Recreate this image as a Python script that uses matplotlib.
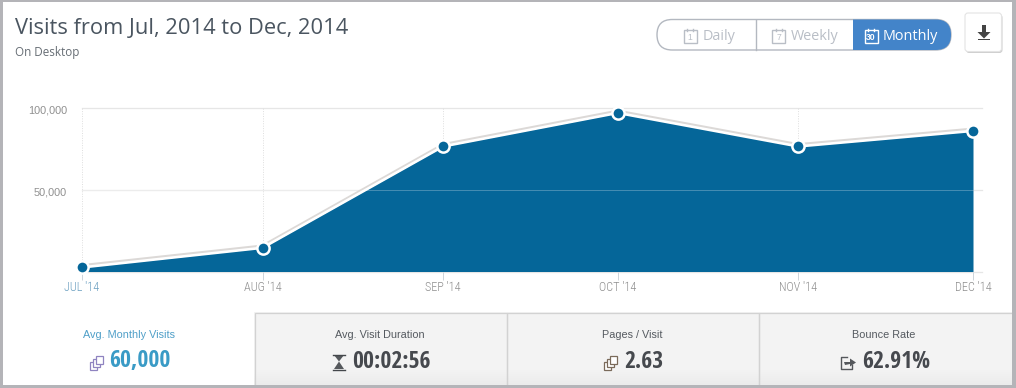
import os
import matplotlib
matplotlib.use("Agg")
import matplotlib.pyplot as plt
import matplotlib.dates as mdates
import matplotlib.patheffects as pe
from matplotlib.patches import Rectangle, FancyBboxPatch, Polygon
from matplotlib import font_manager as fm
import numpy as np
import pandas as pd

month_starts = ["2014-07-01", "2014-08-01", "2014-09-01", "2014-10-01", "2014-11-01", "2014-12-01"]
months = ["JUL '14", "AUG '14", "SEP '14", "OCT '14", "NOV '14", "DEC '14"]
visits = [2500, 14500, 76500, 97000, 76500, 86000]
y_ticks = [50000, 100000]
y_labels = ["50,000", "100,000"]
title = "Visits from Jul, 2014 to Dec, 2014"
subtitle = "On Desktop"
buttons = ["Daily", "Weekly", "Monthly"]
button_nums = ["1", "7", "30"]
stat_names = ["Avg. Monthly Visits", "Avg. Visit Duration", "Pages / Visit", "Bounce Rate"]
stat_values = ["60,000", "00:02:56", "2.63", "62.91%"]

W, H = 1016, 388
entries = fm.fontManager.ttflist
names = {f.name for f in entries}
def pick(*c):
    for n in c:
        if n in names:
            return n
    return "Roboto"
cond_bold = pick("Open Sans Condensed", "Roboto Condensed", "Archivo Narrow")
light_files = [f.fname for f in entries
               if "opensanscondensed" in os.path.basename(f.fname).lower().replace("-", "").replace("_", "")
               and "light" in os.path.basename(f.fname).lower()
               and "italic" not in os.path.basename(f.fname).lower()]
if light_files:
    tick_font = fm.FontProperties(fname=light_files[0], size=9.3)
else:
    tick_font = fm.FontProperties(family=pick("Roboto Condensed", "Archivo Narrow", "PT Sans Narrow"),
                                  weight="light", size=8.8)
OPEN = "Open Sans"
ARIAL = "Liberation Sans"
BLUE = "#056699"

fig = plt.figure(figsize=(W / 100, H / 100), dpi=100, facecolor="white")

bg = fig.add_axes([0, 0, 1, 1], zorder=0)
bg.set_xlim(0, W); bg.set_ylim(H, 0); bg.axis("off")

# chart axes
L, R, T, B = 82, 982, 108, 271.5
ax = fig.add_axes([L / W, 1 - B / H, (R - L) / W, (B - T) / H], zorder=2)
ax.patch.set_alpha(0)
x = mdates.date2num(pd.to_datetime(month_starts))
ax.set_xlim(x[0], x[0] + (x[-1] - x[0]) * (R - L) / (973 - L))
ax.set_ylim(0, 100000)
ax.fill_between(x, visits, 0, color=BLUE, lw=0, zorder=2)
ax.plot(x, visits, color="white", lw=1.9, zorder=3.2,
        path_effects=[pe.Stroke(linewidth=2.0, foreground="#dcd9d7", offset=(0, 1.4)), pe.Normal()])
ax.plot(x, visits, ls="none", marker="o", ms=8.8, mfc=BLUE, mec="white", mew=1.8,
        zorder=5, clip_on=False)
for s in ax.spines.values():
    s.set_visible(False)
ax.set_yticks([100000, 50000], [y_labels[1], y_labels[0]])
ax.set_xticks(x, months)
ax.grid(False)
for yv in y_ticks:
    ax.axhline(yv, color="#e6e6e6", lw=0.9, zorder=1, clip_on=False)
ax.plot(x[[0, -1]], [50000, 50000], color="white", lw=0.6, alpha=0.3, zorder=2.5)
ax.axhline(0, color="#e6e6e6", lw=0.9, zorder=1, clip_on=False)
for xv in x[:5]:
    ax.axvline(xv, color="#dedede", lw=0.7, ls=(0, (1, 1.5)), zorder=1)
ax.tick_params(axis="y", length=0, pad=10.8, labelsize=7.8, labelcolor="#8f8f8f")
ax.tick_params(axis="x", length=5.5, width=0.7, color="#cdd4da", pad=1.5,
               labelcolor="#8e8e8e")
for t in ax.get_yticklabels():
    t.set_family(ARIAL)
    t.set_va("center")
    t.set_transform(t.get_transform() + matplotlib.transforms.ScaledTranslation(0, -3 / 100, fig.dpi_scale_trans))
for t in ax.get_xticklabels():
    t.set_fontproperties(tick_font)
ax.get_xticklabels()[0].set_color("#6a9fc0")

# outer frame
for r in [(0, 0, W, 2), (0, 0, 3, H), (W - 4, 0, 4, H), (0, H - 3, W, 3)]:
    bg.add_patch(Rectangle(r[:2], r[2], r[3], fc="#b4b4b8", ec="none", zorder=8))

# heading
bg.text(15, 28.5, title, family=OPEN, fontsize=15.75, color="#4a5560", va="center", ha="left")
bg.text(15, 52.5, subtitle, family=OPEN, fontsize=8.4, color="#666d74", va="center", ha="left")

# segmented switch
px0, px1, py0, py1 = 657, 951, 19.5, 50
rad = (py1 - py0) / 2
pill = FancyBboxPatch((px0 + rad, py0 + rad), px1 - px0 - 2 * rad, 0,
                      boxstyle=f"round,pad={rad},rounding_size={rad}", fc="white",
                      ec="#b3b8c0", lw=1, zorder=1)
bg.add_patch(pill)
blue_rect = Rectangle((853, py0 - 0.5), 100, py1 - py0 + 1, fc="#4384c9", ec="none", zorder=2)
bg.add_patch(blue_rect)
blue_rect.set_clip_path(pill)
bg.plot([755.5, 755.5], [py0, py1], color="#b3b8c0", lw=1, zorder=2)
icons_x = [690, 778.5, 871]
labels_x = [702.5, 791, 883]
for ix, lx, lab, num, on in zip(icons_x, labels_x, buttons, button_nums, [0, 0, 1]):
    c = "white" if on else "#b9bec6"
    bg.add_patch(Rectangle((ix - 6.5, 30), 13, 13, fc="none", ec=c, lw=1, zorder=3))
    bg.plot([ix - 3, ix - 3], [28.5, 31], color=c, lw=1, zorder=3)
    bg.plot([ix + 3, ix + 3], [28.5, 31], color=c, lw=1, zorder=3)
    bg.text(ix, 37, num, family=ARIAL, fontsize=6.2, color=c, ha="center", va="center",
            weight="bold" if on else "normal", zorder=3)
    bg.text(lx, 36.8, lab, family=OPEN, fontsize=10.4, color=c, ha="left", va="center", zorder=3)

# download button
bg.add_patch(FancyBboxPatch((966, 14.5), 36.5, 38.5, boxstyle="round,pad=0,rounding_size=3",
                            fc="#cfcfcf", ec="none", zorder=1))
bg.add_patch(FancyBboxPatch((965, 13), 36.5, 38.5, boxstyle="round,pad=0,rounding_size=3",
                            fc="white", ec="#e4e4e4", lw=0.8, zorder=2))
bg.add_patch(Rectangle((982, 24.5), 4, 9, fc="#444444", ec="none", zorder=3))
bg.add_patch(Polygon([(977.5, 32), (990.5, 32), (984, 38.5)], fc="#444444", ec="none", zorder=3))
bg.add_patch(Rectangle((978, 38.5), 12, 1.5, fc="#444444", ec="none", zorder=3))

# stat panels
edges = [3, 254, 506, 758, 1012]
grad = np.linspace(0, 1, 73)[:, None]
grad = np.where(grad < 0.8, 0, (grad - 0.8) / 0.2)
for i in (1, 2, 3):
    bg.imshow(np.dstack([0.953 - 0.03 * grad] * 3), extent=(edges[i], edges[i + 1], 385, 312.5),
              aspect="auto", zorder=1)
    bg.add_patch(Rectangle((edges[i] + 0.5, 312.5), edges[i + 1] - edges[i], 75, fc="none",
                           ec="#d2d2d2", lw=0.9, zorder=2))
bg.set_xlim(0, W); bg.set_ylim(H, 0)

centers = [129, 380, 632.5, 884]
val_x = [140, 391.5, 643.5, 896]
for i, (n, v) in enumerate(zip(stat_names, stat_values)):
    col = "#4f9fc8" if i == 0 else "#555a60"
    vcol = "#3a9bc6" if i == 0 else "#46494e"
    bg.text(centers[i], 335, n, family=ARIAL, fontsize=7.8, color=col,
            ha="center", va="center", zorder=4)
    bg.text(val_x[i], 361.5, v, family=cond_bold, fontsize=17, weight="bold", color=vcol,
            ha="center", va="center", zorder=4)

def pages(cx, color):
    for dx in (-3, 0, 3):
        bg.add_patch(Rectangle((cx + dx - 3.5, 358.5 - dx), 7, 8.5, fc="white", ec=color, lw=0.9, zorder=4))

pages(96, "#8f83c0")
pages(610, "#7a6a5a")
bg.add_patch(Polygon([(334, 355), (344, 355), (339, 361.5), (344, 369), (334, 369), (339, 361.5)],
                     fc="#55585c", ec="none", zorder=4))
bg.plot([333, 345], [354.5, 354.5], color="#44474b", lw=1, zorder=4)
bg.plot([333, 345], [369.5, 369.5], color="#44474b", lw=1, zorder=4)
bg.plot([847, 841, 841, 852, 852], [357, 357, 368.5, 368.5, 365], color="#55585c", lw=1, zorder=4)
bg.add_patch(Polygon([(844, 362), (850, 362), (850, 358.5), (856, 362.5), (850, 366.5), (850, 364), (845, 365)],
                     fc="#55585c", ec="none", zorder=5))

fig.savefig("out.png", dpi=100, facecolor="white")
